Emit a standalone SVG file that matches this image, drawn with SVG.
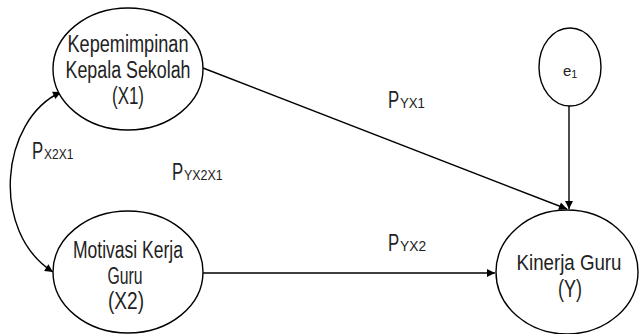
<svg xmlns="http://www.w3.org/2000/svg" width="639" height="334" viewBox="0 0 639 334">
  <style>
    .node { fill: #ffffff; stroke: #000000; stroke-width: 1.4; }
    .edge { fill: none; stroke: #000000; stroke-width: 1.4; }
    text { font-family: "Liberation Sans", Arial, sans-serif; fill: #222222; }
    .lbl { font-size: 23px; text-anchor: middle; }
    .coef { font-size: 24px; }
    .sub { font-size: 15px; }
  </style>
  <defs>
    <marker id="arrow" viewBox="0 0 10 10" refX="10" refY="5" markerWidth="10" markerHeight="8" markerUnits="userSpaceOnUse" orient="auto-start-reverse">
      <path d="M0,0 L10,5 L0,10 z" fill="#000000"/>
    </marker>
  </defs>

  <!-- connectors -->
  <g id="connectors">
    <path class="edge" d="M203,68 L567,209" marker-end="url(#arrow)"/>
    <path class="edge" d="M569,106 L569,209" marker-end="url(#arrow)"/>
    <path class="edge" d="M203,273 L495,273" marker-end="url(#arrow)"/>
    <path class="edge" d="M61,92 C0,120 -10,232 53,272" marker-start="url(#arrow)" marker-end="url(#arrow)"/>
  </g>

  <!-- path coefficients: narrow P with subscript -->
  <g id="coefficients">
    <text class="coef" transform="translate(32,159) scale(0.7,1)">P</text>
    <text class="sub" transform="translate(44,159) scale(0.8,1)">X2X1</text>
    <text class="coef" transform="translate(172,180) scale(0.7,1)">P</text>
    <text class="sub" transform="translate(184,180) scale(0.83,1)">YX2X1</text>
    <text class="coef" transform="translate(388,108) scale(0.7,1)">P</text>
    <text class="sub" transform="translate(400,108) scale(0.88,1)">YX1</text>
    <text class="coef" transform="translate(388,251) scale(0.7,1)">P</text>
    <text class="sub" transform="translate(400,251) scale(0.92,1)">YX2</text>
  </g>

  <g id="x1">
    <ellipse class="node" cx="128" cy="69" rx="75" ry="61"/>
    <text class="lbl" x="128" y="52" textLength="121" lengthAdjust="spacingAndGlyphs">Kepemimpinan</text>
    <text class="lbl" x="128" y="78" textLength="125" lengthAdjust="spacingAndGlyphs">Kepala Sekolah</text>
    <text class="lbl" x="128" y="104" textLength="32" lengthAdjust="spacingAndGlyphs">(X1)</text>
  </g>

  <g id="x2">
    <ellipse class="node" cx="128" cy="272" rx="75" ry="61"/>
    <text class="lbl" x="128" y="258" textLength="110" lengthAdjust="spacingAndGlyphs">Motivasi Kerja</text>
    <text class="lbl" x="125" y="284" textLength="35" lengthAdjust="spacingAndGlyphs">Guru</text>
    <text class="lbl" x="126" y="309" textLength="36" lengthAdjust="spacingAndGlyphs">(X2)</text>
  </g>

  <g id="y">
    <ellipse class="node" cx="567" cy="272" rx="71" ry="62"/>
    <text class="lbl" x="569" y="270" textLength="105" lengthAdjust="spacingAndGlyphs" style="font-size:22px">Kinerja Guru</text>
    <text class="lbl" x="570" y="297" textLength="24" lengthAdjust="spacingAndGlyphs">(Y)</text>
  </g>

  <g id="e1">
    <ellipse class="node" cx="570" cy="67" rx="31" ry="39"/>
    <text x="563" y="76" style="font-size:15px">e<tspan style="font-size:11px" dy="2">1</tspan></text>
  </g>
</svg>
